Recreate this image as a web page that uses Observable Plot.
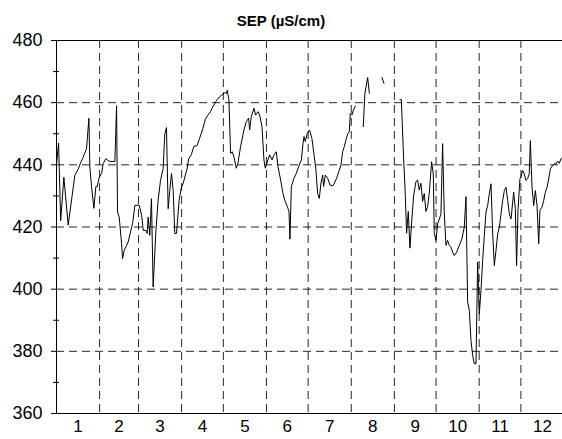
<!DOCTYPE html>
<html>
<head>
<meta charset="utf-8">
<script src="https://cdn.jsdelivr.net/npm/d3@7"></script>
<script src="https://cdn.jsdelivr.net/npm/@observablehq/plot@0.6"></script>
<style>
  html, body { margin: 0; padding: 0; background: #fff; }
  #wrap { width: 562px; }
  #title { width: 562px; height: 30px; box-sizing: border-box; padding-top: 13px; text-align: center;
           font: bold 15px/15px "Liberation Sans", Arial, sans-serif; color: #000; }
</style>
</head>
<body>
<div id="wrap">
  <div id="title">SEP (µS/cm)</div>
  <div id="chart"></div>
</div>
<script>
// Month boundaries (day of year) and month tick labels
const monthStarts = [0, 31, 59, 90, 120, 151, 181, 212, 243, 273, 304, 334, 365];
const monthLabels = ["1","2","3","4","5","6","7","8","9","10","11","12"];
const yLabelTicks = [360, 380, 400, 420, 440, 460, 480];
const yMinorTicks = [370, 390, 410, 430, 450, 470];
const yGridTicks = [380, 400, 420, 440, 460];

// Daily SEP series (day of year), null = missing data
const days = [
  0,1.5,3,5.3,8.4,13.2,15.6,17.3,19.2,21.6,23.3,24,25.2,26.9,28.3,29.3,30.7,32.4,33.6,35.5,36.5,38.4,42,
  43.2,43.9,45.1,46.8,47.5,48.7,49.9,51.6,53.2,54.7,56.4,59.5,61.2,62.4,64.3,65.2,65.9,67.1,68.3,69.5,71.5,
  73.1,74.8,76.7,77.9,79.1,80.3,81.5,82.7,83.9,85.1,86.3,88.2,89.9,91.1,
  94,95,96.9,98.8,101.2,102.9,105.3,107,108.9,110.8,111.8,113.2,114.9,117.3,119,120.9,122.3,122.8,124,
  125.2,126.4,127.6,129.3,130.5,132.4,134.8,136.5,138.2,138.9,140.1,142,143.2,144.9,146.1,147.8,149.2,150.2,
  152.1,153.3,155,156.4,158.1,159.3,161.2,162.9,164.1,166,167.2,167.9,168.9,170.8,172.5,174.1,176.1,177.3,
  178,178.9,180.4,182,183.7,
  185.4,186.6,187.8,189,190.2,191.4,192.1,193.3,195,196.7,198.6,199.8,201.5,203.4,204.6,205.8,207,208.2,
  209.4,210.6,211.3,212.5,213.5,214.9,217,220.6,221.8,223.8,225,229,234.1,235.5,240,
  247,248,249.4,250.9,251.8,253,254.2,255.7,256.9,258.5,259.7,260.9,262.1,263.3,264.5,265.7,266.9,268.1,
  269.8,271,271.7,272.9,274.1,275.8,276.5,277.7,278.9,280.1,281.3,282.5,283.7,284.9,286.1,287.8,289.7,
  291.6,293.3,294.5,295.7,296.9,298.1,299.3,300.5,301.7,302.9,304.1,305.3,306.5,307.7,308.9,310.1,311.3,
  312.5,313.7,314.9,316.1,317.3,318.5,319.7,320.9,322.1,323.3,324.5,325.7,326.9,328.1,328.8,330,330.9,
  331.9,333.3,334,335.2,336.4,337.6,338.8,340,340.8,342,343.2,344.4,345.6,346.8,347.7,349.2,350.4,351.6,
  352.8,354,355.2,356.8,358,359.2,360.4,361.6,362.8,364
];
const sep = [
  440,447,422,436,420.6,436.6,438.6,440.6,442.5,445.2,455,439.3,433,426,433,433,436,437.2,440.4,442,441.6,441.1,441.1,
  459,424.8,423.2,414.7,409.8,412.5,413.6,415.2,418.4,421.1,427,427,423.8,418.9,418.9,417.9,423.2,417.3,429.1,400.7,418.9,
  428.6,435,438.8,450,452,425.9,431.8,437.2,431.8,417.9,417.9,428.6,432.9,434,
  438.9,441.9,443.2,445.9,446.2,448.5,451.7,454.6,456,457.1,458.2,459.2,460.6,461.9,462.5,463.2,463,464,460.9,
  443.7,444.2,442.6,438.9,440.5,445.9,451.2,453.9,455,451.2,455.5,458.2,456,457.1,456,452.3,441.6,438.9,
  441.6,443.2,441.6,443.2,444.2,439.4,435.1,430.8,428.7,426.6,425,416.1,433,435.7,437.3,439.4,441.6,446.9,
  449.1,447.5,450.1,451.2,448.5,
  442.6,438.3,430.8,429.2,434.1,436.7,433,436.7,435.7,433.5,433.2,434.1,435.7,438.3,440,444.2,445.9,448,
  449.9,450.7,456.6,456,457.6,458.9,null,452.3,463,468.1,463,null,468.1,466.2,null,
  460.9,461,444.8,429.8,418,425,413.2,423.3,430.3,434.6,435.1,431.9,434.1,428.2,430.8,425,426.6,430.8,
  441,437,418,415.7,421,423.2,424.2,446.8,424.2,414.1,415.7,414.1,413.5,411.9,410.8,411.9,414.1,
  416.2,420,429.8,395.8,393.2,383.5,378.7,376,376,408.7,392.1,399.6,409.2,417.3,424.8,426.9,430.7,
  433.9,417.8,407.6,412.5,417.8,420,424.2,428.5,431.7,432.8,428.5,424.2,422.6,428,431.2,425.9,407.6,
  425.3,435.5,436,438.2,437.1,435,435.5,437.1,447.8,432.8,426.9,431.7,426.9,414.6,425.3,426.4,428.5,431.2,
  432.8,435.5,438.7,439.8,440.3,440.3,441.2,440.5,441.9,442.5
];

const data = days.map((d, i) => ({day: d, v: sep[i]}));
const monthBounds = monthStarts.slice(1, -1);
const monthMids = monthStarts.slice(0, -1).map((s, i) => (s + monthStarts[i + 1]) / 2);
const labelOf = new Map(monthMids.map((m, i) => [m, monthLabels[i]]));

const dash = {stroke: "#000", strokeOpacity: 0.85, strokeWidth: 1, strokeDasharray: "8,5"};

const chart = Plot.plot({
  width: 562,
  height: 409,
  marginLeft: 56,
  marginRight: -1.5,
  marginTop: 10,
  marginBottom: 26,
  style: {fontFamily: "'Liberation Sans', Arial, sans-serif", color: "#000", background: "#fff", overflow: "visible"},
  x: {domain: [0, 365]},
  y: {domain: [360, 480]},
  marks: [
    Plot.gridY(yGridTicks, dash),
    Plot.gridX(monthBounds, dash),
    Plot.ruleY([360], {stroke: "#000", strokeWidth: 1}),
    Plot.ruleY([480], {stroke: "#000", strokeWidth: 1}),
    Plot.ruleX([0], {stroke: "#000", strokeWidth: 1}),
    Plot.axisY(yLabelTicks, {anchor: "left", tickSize: 5, tickPadding: 9, fontSize: 18, label: null}),
    Plot.axisY(yMinorTicks, {anchor: "left", tickSize: 6, dx: 3, tickFormat: () => "", label: null}),
    Plot.axisX(monthMids, {anchor: "bottom", tickSize: 0, tickPadding: 6, fontSize: 17, label: null,
                           tickFormat: d => labelOf.get(d)}),
    Plot.line(data, {x: "day", y: "v", stroke: "#000", strokeWidth: 1})
  ]
});
document.getElementById("chart").appendChild(chart);
</script>
</body>
</html>
